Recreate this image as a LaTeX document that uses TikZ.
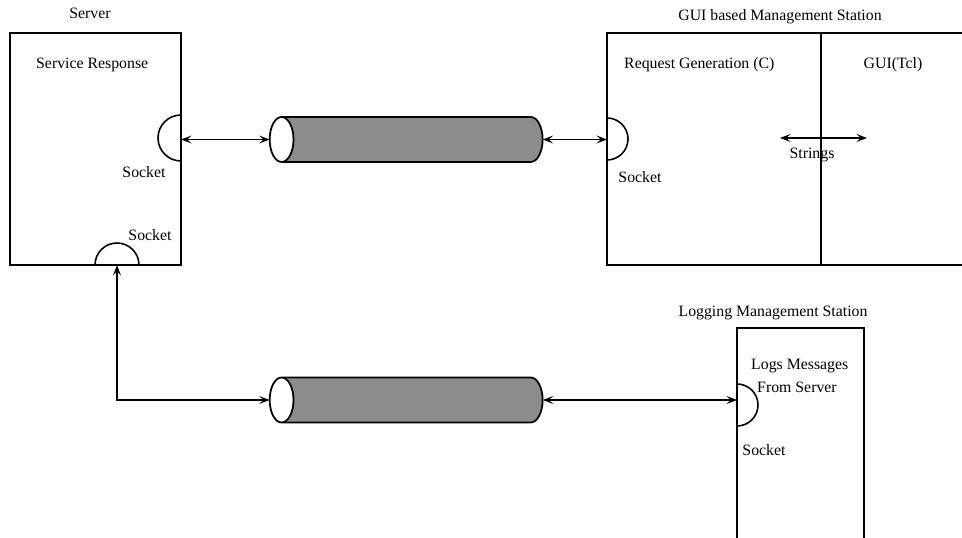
\documentclass[tikz,border=0pt]{standalone}
\usepackage{fontspec}
\setmainfont{Liberation Serif}
\usetikzlibrary{shapes.geometric,arrows.meta}
\begin{document}
\begin{tikzpicture}[x=0.02cm,y=0.02cm,
    >={Stealth[length=6pt,width=4.5pt,inset=2.5pt]},
    every node/.style={font=\fontsize{9}{10.5}\selectfont},
    box/.style={draw,line width=1pt,rectangle,inner sep=0pt,outer sep=0pt},
    pipe/.style={draw,line width=1pt,cylinder,shape border rotate=180,shape aspect=0.53,
      minimum height=5.46cm,inner xsep=0pt,inner ysep=0.45cm,outer sep=0pt,
      cylinder uses custom fill,cylinder body fill=black!45,cylinder end fill=white},
    link/.style={<->,line width=0.8pt},
    sock/.style={line width=0.9pt}]
  \useasboundingbox (0,0) rectangle (962,537);
  \clip (0,0) rectangle (962,537);
  % boxes
  \node[box,minimum width=3.42cm,minimum height=4.64cm] (server) at (95.5,388) {};
  \node[box,minimum width=4.28cm,minimum height=4.64cm] (reqgen) at (714,388) {};
  \node[box,minimum width=3.58cm,minimum height=4.64cm,line width=0.6pt] (tclgui) at (910.5,388) {};
  \node[box,minimum width=2.54cm,minimum height=5.18cm] (logbox) at (800.5,79.5) {};
  % pipes
  \node[pipe] (pipeA) at (418.5,397.5) {};
  \node[pipe] (pipeB) at (418.5,137) {};
  % sockets
  \coordinate (sockA) at (181,399);
  \coordinate (sockB) at (117,272);
  \coordinate (sockC) at (607,398);
  \coordinate (sockD) at (737,132);
  \draw[sock] (sockA) ++(0,23) arc[start angle=90,end angle=270,radius=0.46cm];
  \draw[sock] (sockB) ++(22,0) arc[start angle=0,end angle=180,radius=0.44cm];
  \draw[sock] (sockC) ++(0,21) arc[start angle=90,end angle=-90,radius=0.42cm];
  \draw[sock] (sockD) ++(0,21) arc[start angle=90,end angle=-90,radius=0.42cm];
  % titles and labels
  \node (srvtitle) at (90,524) {Server};
  \node[anchor=west] (svcresp) at (30,472) {Service Response};
  \node (sockAlbl) at (144,365) {Socket};
  \node (sockBlbl) at (150,302) {Socket};
  \node (guititle) at (780,520) {GUI based Management Station};
  \node[anchor=west] (reqlbl) at (618,472) {Request Generation (C)};
  \node (tcllbl) at (893,472) {GUI(Tcl)};
  \node (sockClbl) at (640,360) {Socket};
  \node (logtitle) at (773,224) {Logging Management Station};
  \node[anchor=west] (logmsg) at (745,171) {Logs Messages};
  \node[anchor=west] (logsrv) at (751,150) {From Server};
  \node (sockDlbl) at (764,87) {Socket};
  % connections
  \coordinate (strL) at (780,399);
  \coordinate (strR) at (867,399);
  \draw[link] (pipeA.west -| server.east) -- (pipeA.west);
  \draw[link] (pipeA.east) -- (pipeA.east -| reqgen.west);
  \draw[link,line width=1.1pt] (strL) -- (strR);
  \node (strlbl) at (812,382) {Strings};
  \draw[link] (sockB) |- (pipeB.west);
  \draw[link] (pipeB.east) -- (pipeB.east -| logbox.west);
\end{tikzpicture}
\end{document}
